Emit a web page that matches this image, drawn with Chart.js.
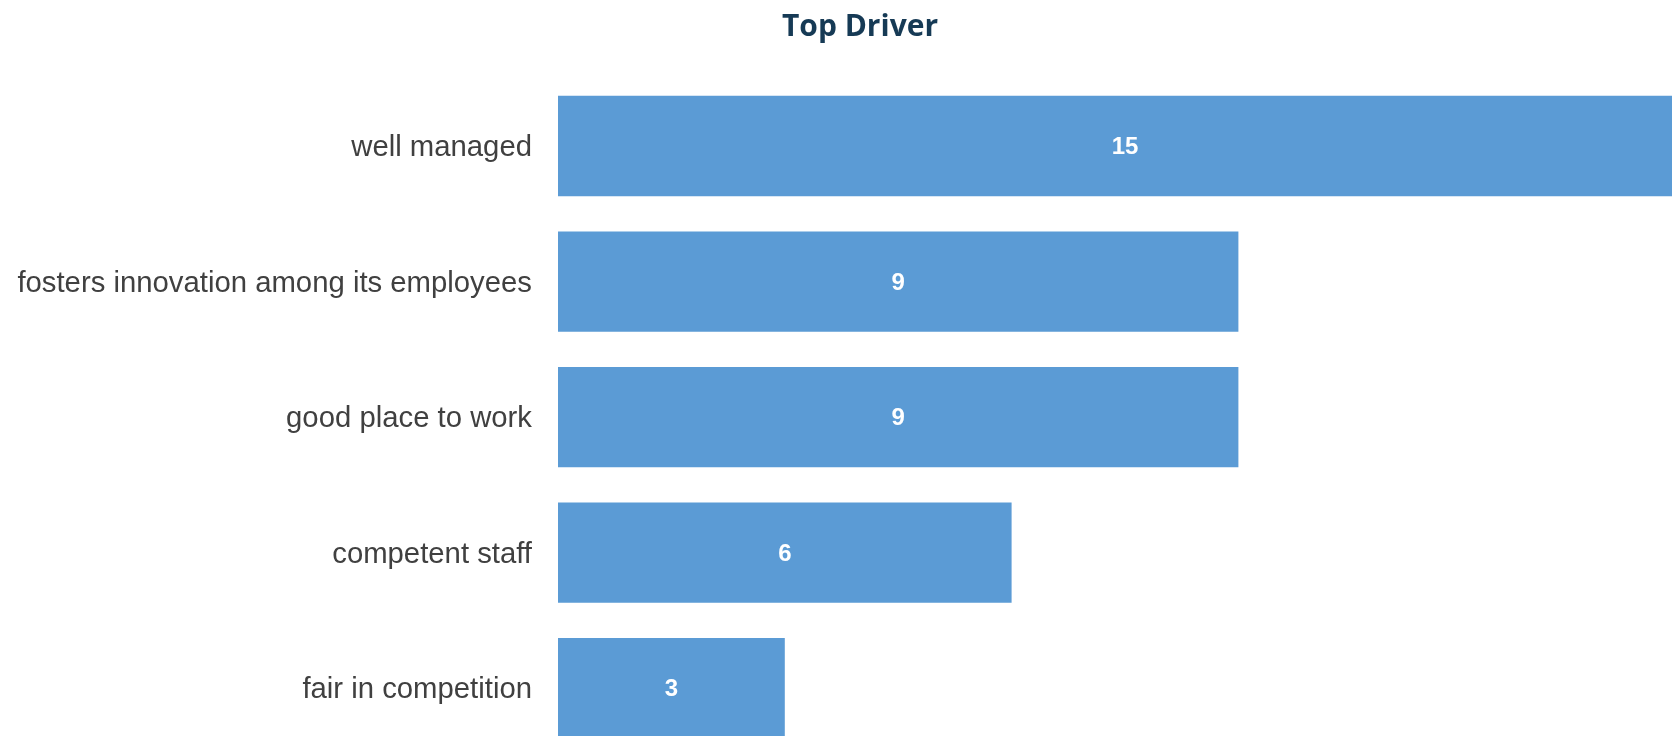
<!DOCTYPE html>
<html>
<head>
<meta charset="utf-8">
<script src="https://cdn.jsdelivr.net/npm/chart.js@4"></script>
<style>
  html, body { margin: 0; padding: 0; background: #ffffff; overflow: hidden; width: 1672px; height: 736px; }
  #wrap { position: absolute; left: 0; top: 0; width: 1692px; height: 756px; }
</style>
</head>
<body>
<div id="wrap"><canvas id="c" width="1692" height="756"></canvas></div>
<script>
const chartTitle = 'Top Driver';
const categories = ['well managed', 'fosters innovation among its employees', 'good place to work', 'competent staff', 'fair in competition'];
const values = [15, 9, 9, 6, 3];
const axisMin = 0;
const axisMax = 15;

const valueLabels = {
  id: 'valueLabels',
  afterDatasetsDraw(chart) {
    const ctx = chart.ctx;
    const meta = chart.getDatasetMeta(0);
    ctx.save();
    ctx.fillStyle = '#ffffff';
    ctx.font = 'bold 24px "Liberation Sans", Arial, sans-serif';
    ctx.textAlign = 'center';
    ctx.textBaseline = 'middle';
    meta.data.forEach((bar, i) => {
      const cx = (bar.x + bar.base) / 2;
      ctx.fillText(String(values[i]), cx, bar.y + 1.5);
    });
    ctx.restore();
  }
};

const titleText = {
  id: 'titleText',
  afterDraw(chart) {
    const ctx = chart.ctx;
    ctx.save();
    ctx.fillStyle = '#163a55';
    ctx.font = 'bold 30px "Open Sans", "Noto Sans", sans-serif';
    ctx.textAlign = 'center';
    ctx.textBaseline = 'alphabetic';
    ctx.fillText(chartTitle, 860, 36);
    ctx.restore();
  }
};

new Chart(document.getElementById('c'), {
  type: 'bar',
  data: {
    labels: categories,
    datasets: [{
      data: values,
      backgroundColor: '#5B9BD5',
      borderWidth: 0,
      categoryPercentage: 1.0,
      barPercentage: 0.74
    }]
  },
  options: {
    indexAxis: 'y',
    responsive: false,
    animation: false,
    devicePixelRatio: 1,
    layout: { padding: { left: 0, right: 0, top: 78.25, bottom: 0 } },
    plugins: {
      legend: { display: false },
      tooltip: { enabled: false },
      title: { display: false }
    },
    scales: {
      x: {
        display: false,
        min: axisMin,
        max: axisMax
      },
      y: {
        grid: { display: false, drawTicks: false },
        border: { display: false },
        ticks: {
          color: '#404040',
          padding: 26,
          labelOffset: 2,
          font: { family: '"Liberation Sans", Arial, sans-serif', size: 29.3 }
        },
        afterFit(axis) {
          axis.width = 558;
          axis.paddingTop = 0;
          axis.paddingBottom = 0;
        }
      }
    }
  },
  plugins: [valueLabels, titleText]
});
</script>
</body>
</html>
